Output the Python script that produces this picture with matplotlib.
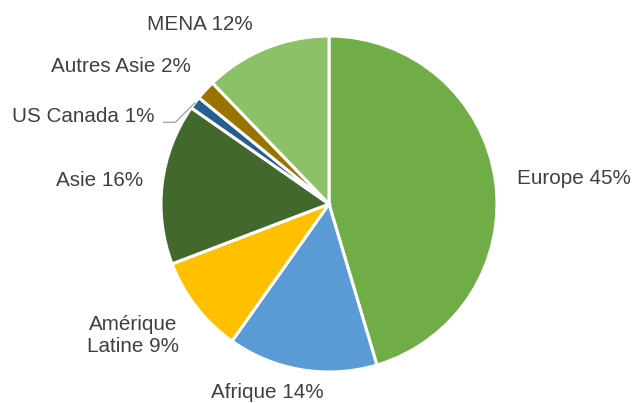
import matplotlib.pyplot as plt
import numpy as np

plt.rcParams["font.family"] = ["Liberation Sans", "DejaVu Sans"]

# data (shares in %, clockwise from 12 o'clock)
regions = ["Europe", "Afrique", "Amérique\nLatine", "Asie", "US Canada", "Autres Asie", "MENA"]
shares = [45.4, 14.4, 9.4, 15.5, 1.2, 1.9, 12.2]
colors = ["#70AD47", "#5B9BD5", "#FFC000", "#43682B", "#255E91", "#997300", "#8CC168"]

# label layout (pie radius = 1)
label_pos = [(1.117, 0.150), (-0.369, -1.122), (-1.167, -0.785), (-1.107, 0.137),
             (-1.036, 0.520), (-0.821, 0.817), (-0.771, 1.071)]
label_ha = ["left", "center", "center", "right", "right", "right", "center"]
TEXT = "#404040"

W, H = 635, 403
CX, CY, R = 329, 204, 168

fig = plt.figure(figsize=(W / 100, H / 100), dpi=100)
ax = fig.add_axes([0, 0, 1, 1])

wedges, _ = ax.pie(shares, colors=colors, startangle=90, counterclock=False,
                   radius=1.0, wedgeprops=dict(edgecolor="white", linewidth=2.2))

for i, (name, val) in enumerate(zip(regions, shares)):
    txt = f"{name} {val:.0f}%"
    x, y = label_pos[i]
    if name == "US Canada":
        w = wedges[i]
        mid = np.deg2rad((w.theta1 + w.theta2) / 2)
        tip = (np.cos(mid), np.sin(mid))
        ax.annotate(txt, xy=tip, xytext=(x, y), ha="right", va="center",
                    fontsize=14.9, color=TEXT,
                    arrowprops=dict(arrowstyle="-", color="#A6A6A6", lw=1.0,
                                    connectionstyle="angle,angleA=0,angleB=45,rad=0",
                                    relpos=(1.0, 0.2), shrinkA=4, shrinkB=0))
    else:
        ax.text(x, y, txt, ha=label_ha[i], va="center", fontsize=14.9,
                color=TEXT, multialignment="center", linespacing=1.2)

ax.set_xlim(-CX / R, (W - CX) / R)
ax.set_ylim(-(H - CY) / R, CY / R)
ax.set_aspect("equal")
ax.axis("off")

fig.savefig("out.png", dpi=100)
